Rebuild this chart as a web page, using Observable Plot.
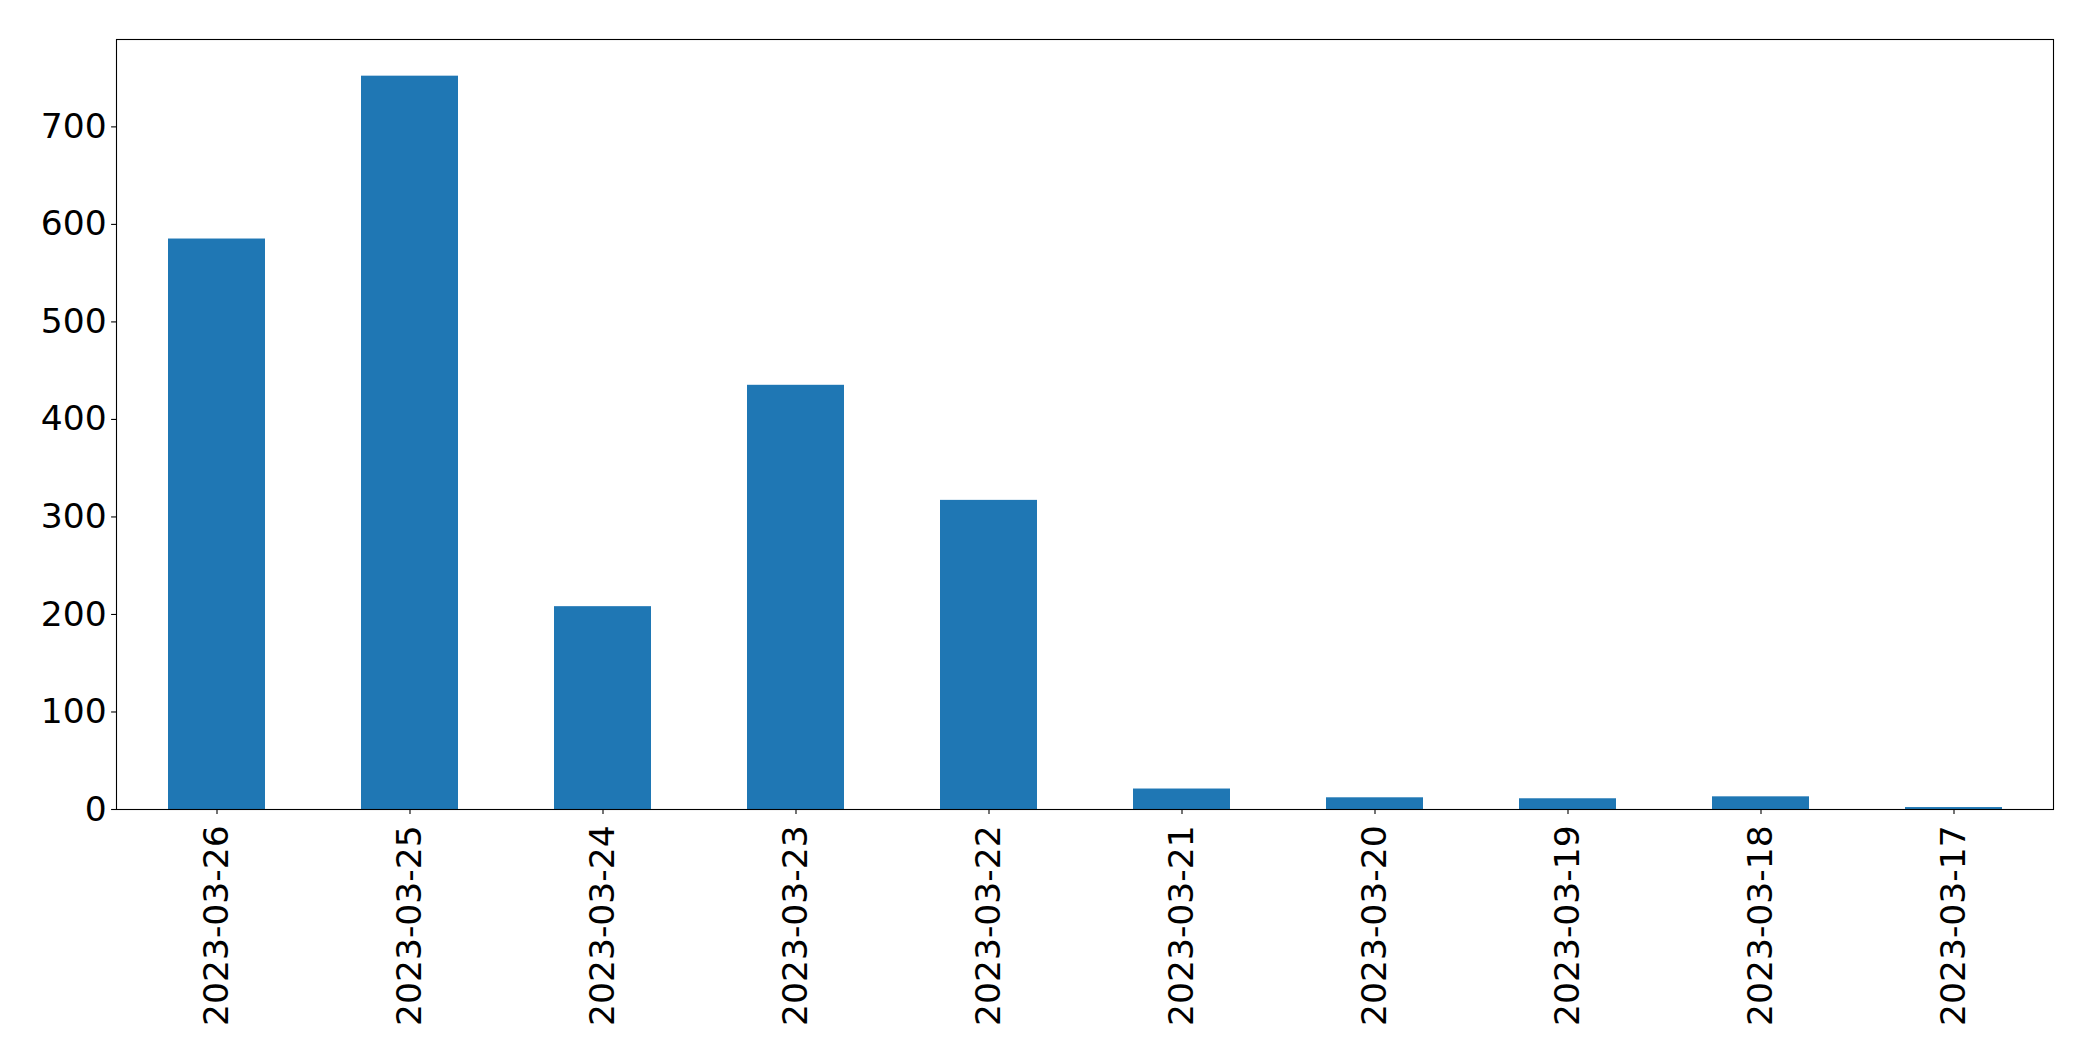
<!DOCTYPE html>
<html>
<head>
<meta charset="utf-8">
<script src="https://cdn.jsdelivr.net/npm/d3@7"></script>
<script src="https://cdn.jsdelivr.net/npm/@observablehq/plot@0.6"></script>
<style>
  html, body { margin: 0; padding: 0; background: #fff; }
  #chart svg { display: block; }
</style>
</head>
<body>
<div id="chart"></div>
<script>
const dates = ["2023-03-26", "2023-03-25", "2023-03-24", "2023-03-23", "2023-03-22",
               "2023-03-21", "2023-03-20", "2023-03-19", "2023-03-18", "2023-03-17"];
const counts = [585, 752, 208, 435, 317, 21, 12, 11, 13, 2];
const yTicks = [0, 100, 200, 300, 400, 500, 600, 700];

const data = dates.map((d, i) => ({date: d, count: counts[i]}));
const yMax = d3.max(counts) * 1.05;

const chart = Plot.plot({
  width: 2093,
  height: 1061,
  marginLeft: 116,
  marginRight: 40,
  marginTop: 39,
  marginBottom: 252,
  style: {fontFamily: "DejaVu Sans", fontSize: "34.5px", color: "#000", background: "#fff"},
  x: {type: "band", domain: dates, paddingInner: 0.5, paddingOuter: 0.25, label: null},
  y: {domain: [0, yMax], label: null},
  marks: [
    Plot.barY(data, {x: "date", y: "count", fill: "#1f77b4"}),
    Plot.frame({stroke: "#000", strokeWidth: 1.1}),
    Plot.axisY({ticks: yTicks, tickSize: 4.9, tickPadding: 4.9, strokeWidth: 1.1, fontSize: 34.5, label: null}),
    Plot.axisX({tickSize: 4.9, tickPadding: 11, strokeWidth: 1.1, fontSize: 34.5, tickRotate: -90, label: null})
  ]
});
document.getElementById("chart").appendChild(chart);
</script>
</body>
</html>
